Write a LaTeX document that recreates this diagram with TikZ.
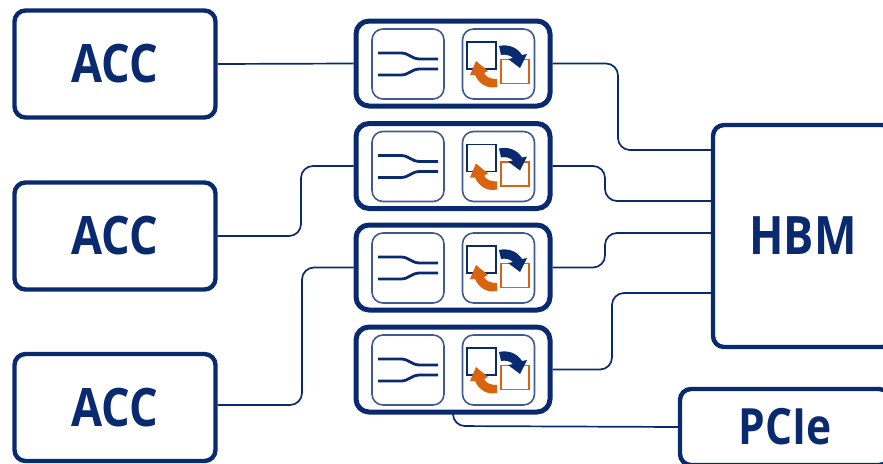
\documentclass[tikz,border=0pt]{standalone}
\usepackage{fontspec}
\setmainfont{Open Sans}[FakeStretch=0.85]
\definecolor{navy}{HTML}{0A2A70}
\definecolor{innerblue}{HTML}{3F5A92}
\definecolor{brandorange}{HTML}{D9640F}
\newcommand{\fabricmodule}[2]{%
  \node[modbox] (#1) at (453,#2+42.5) {};
  \node[innerbox] (#1l) at (408,#2+43) {};
  \node[innerbox] (#1r) at (498.5,#2+43) {};
  \node[smallblue] (#1a) at (481.5,#2+34.5) {};
  \node[smallorange] (#1b) at (515,#2+50.5) {};
  \draw[mergeline] (378,#2+32) -- (401,#2+32) .. controls (409,#2+32) and (411,#2+38) .. (420,#2+38) -- (438,#2+38);
  \draw[mergeline] (378,#2+54) -- (401,#2+54) .. controls (409,#2+54) and (411,#2+48) .. (420,#2+48) -- (438,#2+48);
  \fill[navy] (499,#2+25) .. controls (508,#2+23) and (517,#2+26) .. (522,#2+34) -- (527,#2+33) -- (520,#2+47) -- (508,#2+38) -- (513,#2+37) .. controls (510,#2+34) and (505,#2+33) .. (501,#2+34) -- cycle;
  \fill[brandorange] (497,#2+66) .. controls (487,#2+68) and (479,#2+63) .. (475,#2+54) -- (470,#2+54) -- (476,#2+40) -- (488,#2+50) -- (484,#2+52) .. controls (486,#2+56) and (490,#2+58) .. (497,#2+58) -- cycle;
}
\tikzset{
  x=1pt,y=-1pt,
  bigbox/.style={draw=navy,line width=4.4pt,rounded corners=11pt,fill=white,inner sep=0pt,text=navy,font=\bfseries\fontsize{53}{53}\selectfont},
  modbox/.style={draw=navy,line width=5pt,rounded corners=13pt,fill=white,minimum width=194pt,minimum height=85pt,inner sep=0pt},
  innerbox/.style={draw=innerblue,line width=1.6pt,rounded corners=11pt,fill=white,minimum width=72pt,minimum height=70pt,inner sep=0pt},
  smallblue/.style={draw=navy,line width=1.3pt,minimum width=29pt,minimum height=27pt,inner sep=0pt},
  smallorange/.style={draw=brandorange,line width=1.4pt,fill=white,minimum width=28pt,minimum height=24pt,inner sep=0pt},
  mergeline/.style={draw=navy,line width=2.8pt},
  conn/.style={draw=navy,line width=1.7pt,rounded corners=12pt},
}
\begin{document}
\begin{tikzpicture}
\useasboundingbox (0,0) rectangle (883,463);
\begin{scope}
\clip (0,0) rectangle (883,463);
\node[bigbox,minimum width=201pt,minimum height=107pt] (acc1) at (115,64) {ACC};
\node[bigbox,minimum width=201pt,minimum height=107pt] (acc2) at (115,236) {ACC};
\node[bigbox,minimum width=201pt,minimum height=107pt] (acc3) at (115,407.5) {ACC};
\node[bigbox,minimum width=180pt,minimum height=222pt] (hbm) at (803,236) {HBM};
\node[bigbox,minimum width=210pt,minimum height=76pt,font=\bfseries\fontsize{50}{50}\selectfont] (pcie) at (785,427) {PCIe};
\fabricmodule{m1}{21}
\fabricmodule{m2}{123.5}
\fabricmodule{m3}{225}
\fabricmodule{m4}{327}
\coordinate (h1) at (hbm.west |- 0,150);
\coordinate (h2) at (hbm.west |- 0,201);
\coordinate (h3) at (hbm.west |- 0,233);
\coordinate (h4) at (hbm.west |- 0,293);
\coordinate (a3) at (acc3.east |- 0,405);
\coordinate (m4s) at (m4.south);
\draw[conn] (acc1.east) -- (m1.west);
\draw[conn] (acc2.east) -| (301,166) -- (m2.west);
\draw[conn] (a3) -| (302,267.5) -- (m3.west);
\draw[conn] (m1.east) -| (618,150) -- (h1);
\draw[conn] (m2.east) -| (605,201) -- (h2);
\draw[conn] (m3.east) -| (605,233) -- (h3);
\draw[conn] (m4.east) -| (612,293) -- (h4);
\draw[conn] (m4s) -- (453,426) -- (pcie.west);
\end{scope}
\end{tikzpicture}
\end{document}
